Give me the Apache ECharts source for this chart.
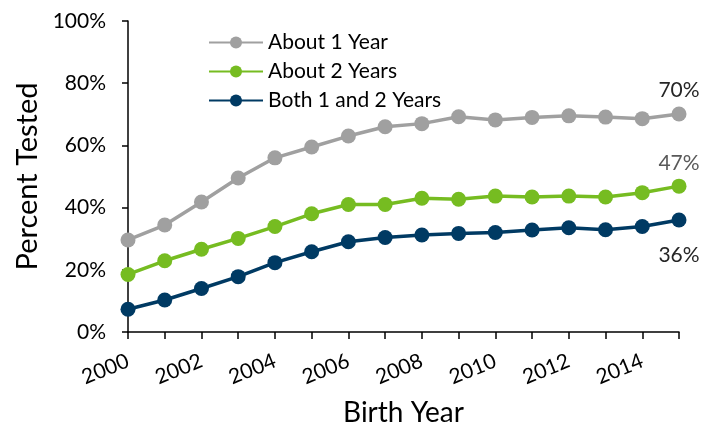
<!DOCTYPE html>
<html><head><meta charset="utf-8">
<script src="https://cdn.jsdelivr.net/npm/echarts@6/dist/echarts.min.js"></script>
<style>html,body{margin:0;padding:0;background:#fff}#c{width:704px;height:430px}</style>
</head><body><div id="c"></div>
<script>
var years = ['2000','2001','2002','2003','2004','2005','2006','2007','2008','2009','2010','2011','2012','2013','2014','2015'];
var about1 = [29.6,34.4,41.8,49.5,56.0,59.5,63.0,66.0,67.0,69.2,68.2,69.0,69.5,69.1,68.6,70.1];
var about2 = [18.5,22.9,26.6,30.1,33.9,38.0,41.0,41.0,43.0,42.7,43.7,43.4,43.7,43.4,44.8,46.9];
var both = [7.3,10.3,14.0,17.8,22.3,25.8,29.0,30.4,31.2,31.7,32.0,32.8,33.5,32.9,33.9,36.0];
var names = ['About 1 Year','About 2 Years','Both 1 and 2 Years'];
var colors = ['#A0A0A0','#76BC21','#003A63'];
var FONT = 'Lato, "Liberation Sans", sans-serif';

function withEndLabel(arr, pos, dist, col){
  return arr.map(function(v,i){
    if(i===arr.length-1){
      return {value:v, label:{show:true, position:pos, distance:dist, color:col, fontSize:21, fontFamily:FONT,
        formatter:function(p){return Math.round(p.value)+'%';}}};
    }
    return v;
  });
}

var chart = echarts.init(document.getElementById('c'), null, {renderer:'canvas'});
var series = [
  {d: withEndLabel(about1,'top',6,'#262626')},
  {d: withEndLabel(about2,'top',5,'#595959')},
  {d: withEndLabel(both,'bottom',17,'#262626')}
].map(function(s,i){
  return {name:names[i], type:'line', data:s.d, symbol:'circle', symbolSize:15,
    lineStyle:{width:3.5,color:colors[i]}, itemStyle:{color:colors[i]}, z:10-i, animation:false};
});

chart.setOption({
  animation:false,
  grid:{left:128,right:25,top:21,bottom:98,containLabel:false,outerBoundsMode:'none'},
  legend:{orient:'vertical', left:203, top:27, itemWidth:54, itemHeight:15, itemGap:8,
    textStyle:{fontSize:21,color:'#000',fontFamily:FONT}, data:names},
  xAxis:{type:'category', data:years, boundaryGap:false,
    name:'Birth Year', nameLocation:'middle', nameGap:67,
    nameTextStyle:{fontSize:28,color:'#000',fontFamily:FONT},
    axisLine:{lineStyle:{color:'#000',width:1.5}},
    axisTick:{show:true, interval:0, length:7, lineStyle:{color:'#000',width:1.5}},
    axisLabel:{interval:1, rotate:22, fontSize:21, color:'#000', fontFamily:FONT, margin:28}},
  yAxis:{type:'value', min:0, max:100, interval:20,
    name:'Percent Tested', nameLocation:'middle', nameGap:83, nameRotate:90,
    nameTextStyle:{fontSize:29,color:'#000',fontFamily:FONT},
    axisLine:{show:true,lineStyle:{color:'#000',width:1.5}},
    axisTick:{show:true,length:6,lineStyle:{color:'#000',width:1.5}},
    splitLine:{show:false},
    axisLabel:{formatter:'{value}%', fontSize:21, color:'#000', fontFamily:FONT, margin:22}},
  series:series
});
</script></body></html>
